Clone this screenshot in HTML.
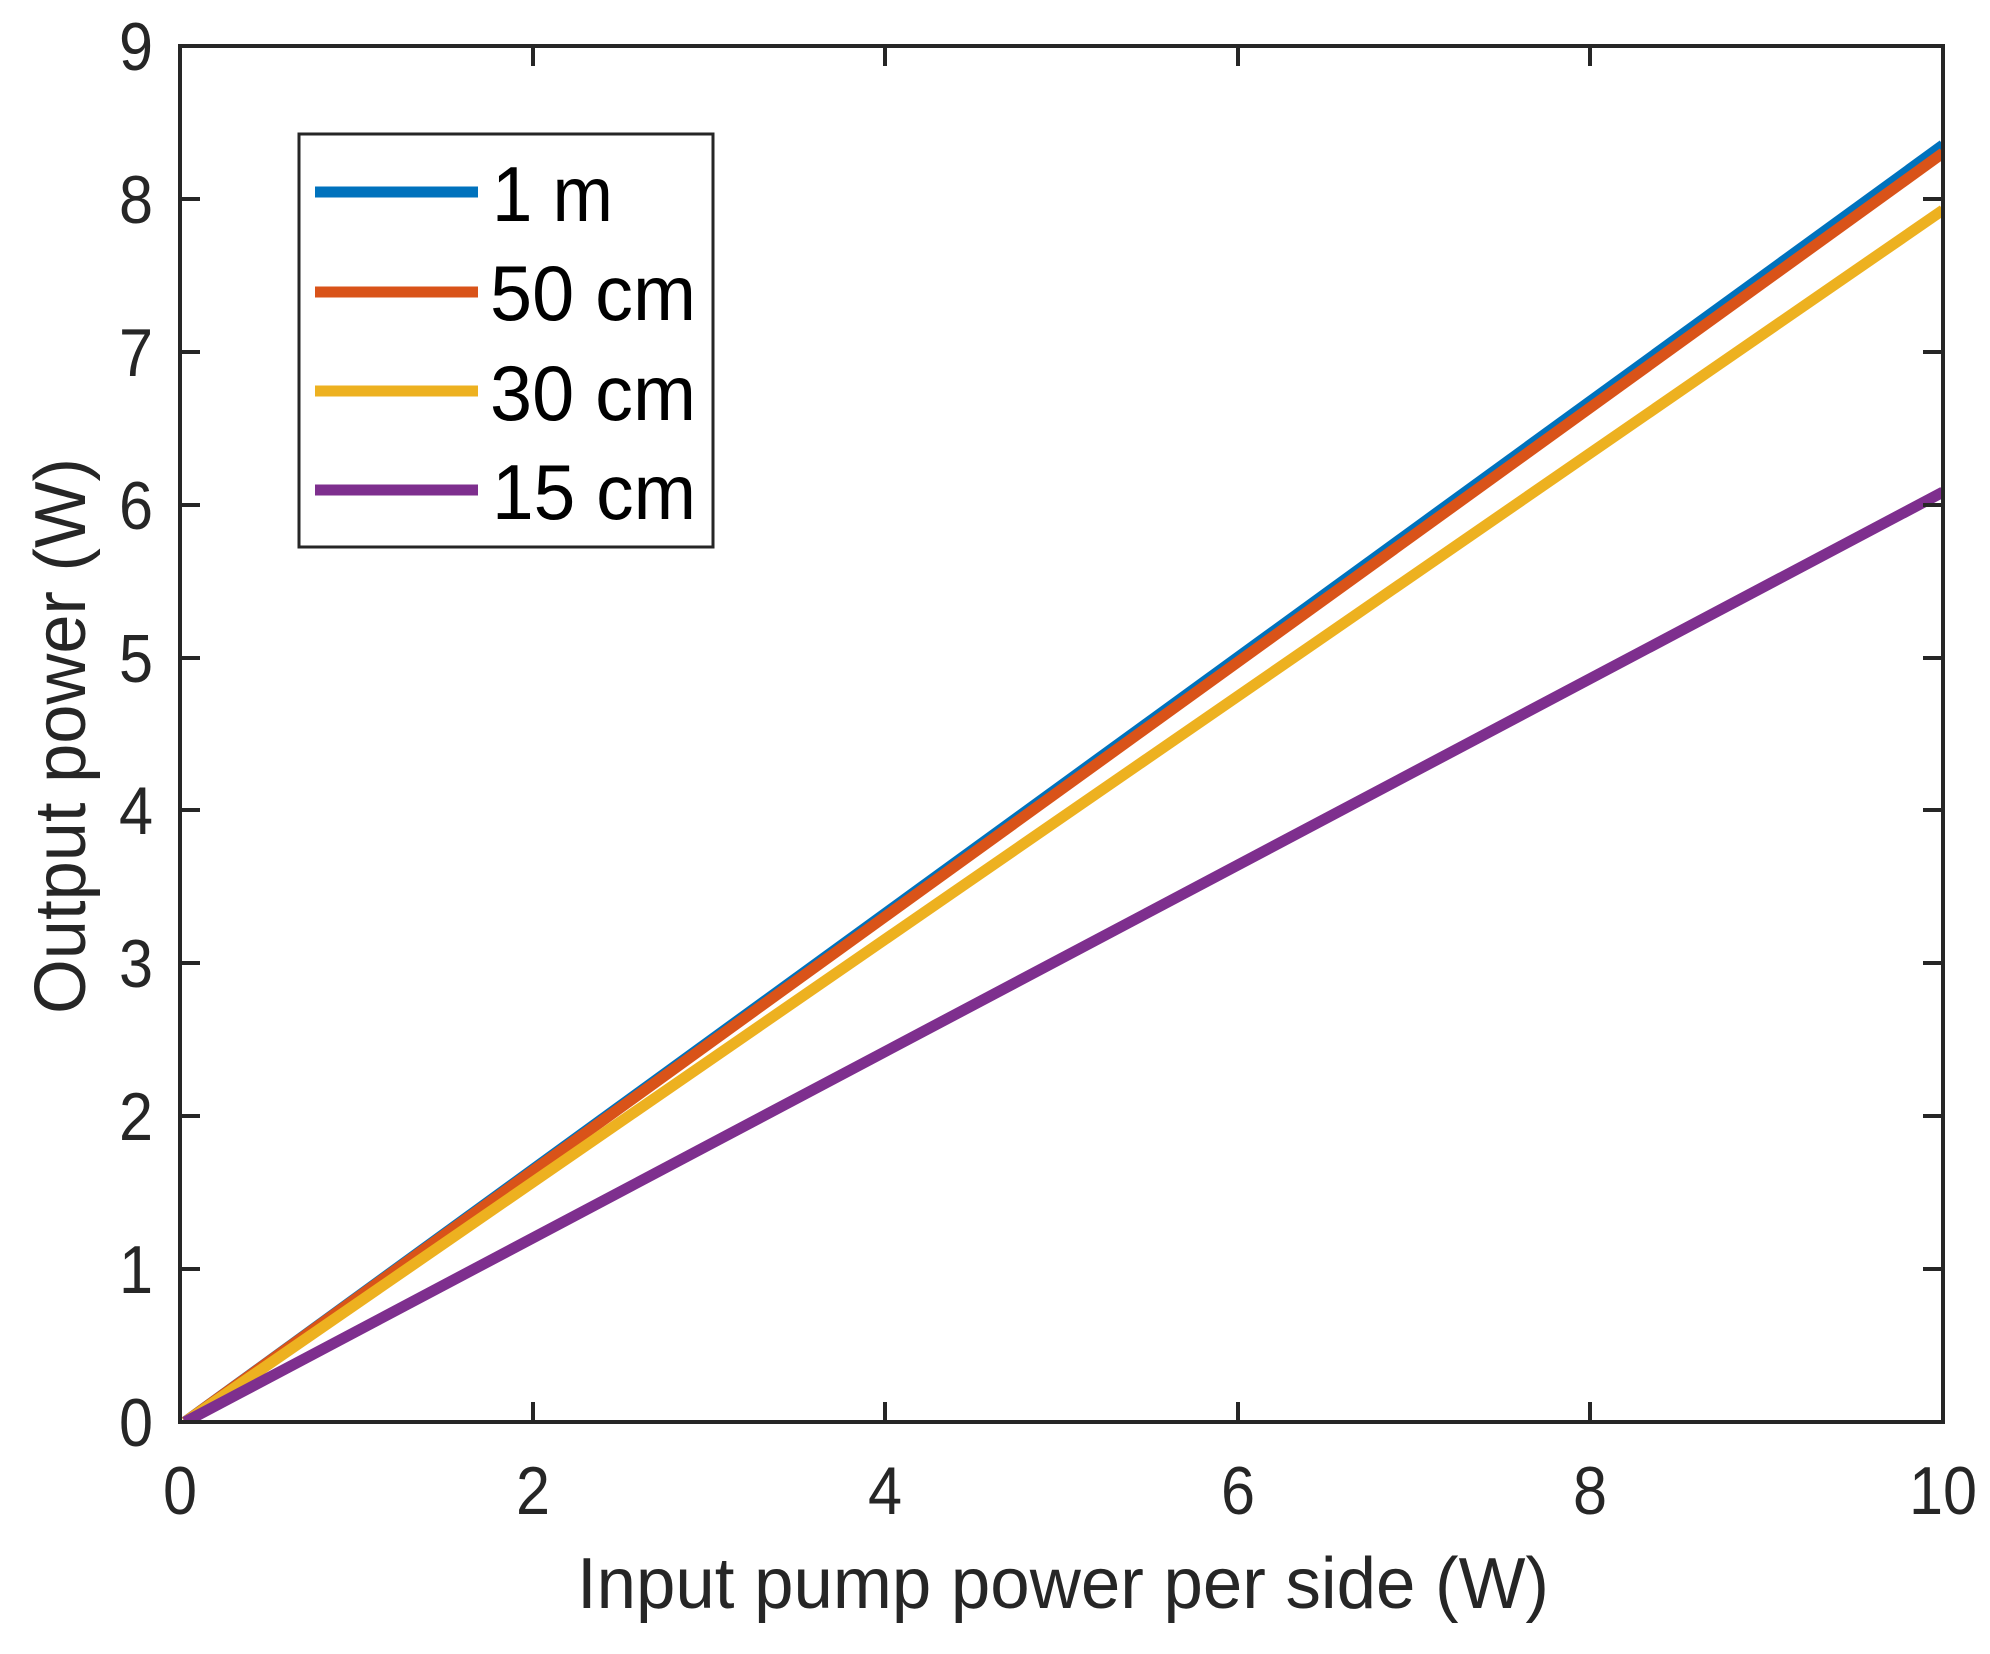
<!DOCTYPE html>
<html><head><meta charset="utf-8"><style>html,body{margin:0;padding:0;background:#fff}svg{display:block}</style></head>
<body>
<svg width="1990" height="1654" viewBox="0 0 1990 1654" xmlns="http://www.w3.org/2000/svg" font-family="Liberation Sans, Arial, sans-serif">
<rect width="1990" height="1654" fill="#fff"/>
<defs><clipPath id="c"><rect x="180" y="46" width="1763" height="1376"/></clipPath></defs>
<g clip-path="url(#c)" stroke-width="11" fill="none" stroke-linecap="butt">
<line x1="185" y1="1422" x2="1943" y2="145" stroke="#0072BD"/>
<line x1="185" y1="1422" x2="1943" y2="153" stroke="#D95319"/>
<line x1="185" y1="1422" x2="1943" y2="210" stroke="#EDB120"/>
<line x1="185" y1="1422" x2="1943" y2="492" stroke="#7E2F8E"/>
</g>
<g stroke="#262626" stroke-width="4" fill="none">
<rect x="180" y="46" width="1763" height="1376"/>
<path d="M533 1422v-20M885 1422v-20M1238 1422v-20M1590 1422v-20M533 46v20M885 46v20M1238 46v20M1590 46v20"/>
<path d="M180 1269h20M180 1116h20M180 963h20M180 810h20M180 658h20M180 505h20M180 352h20M180 199h20M1943 1269h-20M1943 1116h-20M1943 963h-20M1943 810h-20M1943 658h-20M1943 505h-20M1943 352h-20M1943 199h-20"/>
</g>
<g fill="#262626" font-size="68">
<g text-anchor="middle">
<text transform="translate(180,1514) scale(0.9,1)">0</text><text transform="translate(533,1514) scale(0.9,1)">2</text><text transform="translate(885,1514) scale(0.9,1)">4</text><text transform="translate(1238,1514) scale(0.9,1)">6</text><text transform="translate(1590,1514) scale(0.9,1)">8</text><text transform="translate(1943,1514) scale(0.9,1)">10</text>
</g>
<g text-anchor="end">
<text transform="translate(153,1446) scale(0.9,1)">0</text><text transform="translate(153,1293) scale(0.9,1)">1</text><text transform="translate(153,1140) scale(0.9,1)">2</text><text transform="translate(153,987) scale(0.9,1)">3</text><text transform="translate(153,834) scale(0.9,1)">4</text><text transform="translate(153,682) scale(0.9,1)">5</text><text transform="translate(153,529) scale(0.9,1)">6</text><text transform="translate(153,376) scale(0.9,1)">7</text><text transform="translate(153,223) scale(0.9,1)">8</text><text transform="translate(153,70) scale(0.9,1)">9</text>
</g>
<text x="577" y="1608" font-size="72" textLength="972" lengthAdjust="spacingAndGlyphs">Input pump power per side (W)</text>
<text transform="translate(85,1014) rotate(-90)" font-size="72" textLength="556" lengthAdjust="spacingAndGlyphs">Output power (W)</text>
</g>
<rect x="299" y="134" width="414" height="413" fill="#fff" stroke="#262626" stroke-width="3"/>
<g stroke-width="11">
<line x1="315" y1="192" x2="478" y2="192" stroke="#0072BD"/>
<line x1="315" y1="292" x2="478" y2="292" stroke="#D95319"/>
<line x1="315" y1="391" x2="478" y2="391" stroke="#EDB120"/>
<line x1="315" y1="490" x2="478" y2="490" stroke="#7E2F8E"/>
</g>
<g fill="#000" font-size="78">
<text x="492" y="221" textLength="121" lengthAdjust="spacingAndGlyphs">1 m</text>
<text x="490" y="320" textLength="206" lengthAdjust="spacingAndGlyphs">50 cm</text>
<text x="490" y="420" textLength="206" lengthAdjust="spacingAndGlyphs">30 cm</text>
<text x="492" y="519" textLength="204" lengthAdjust="spacingAndGlyphs">15 cm</text>
</g>
</svg>
</body></html>
